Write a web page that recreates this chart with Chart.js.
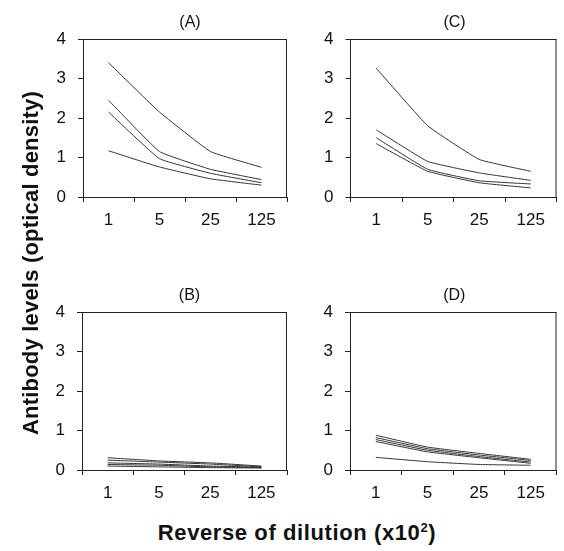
<!DOCTYPE html>
<html>
<head>
<meta charset="utf-8">
<script src="https://cdn.jsdelivr.net/npm/chart.js@4.4.1/dist/chart.umd.min.js"></script>
<style>
  html, body { margin: 0; padding: 0; background: #fff; }
  body { width: 564px; height: 551px; position: relative; overflow: hidden; font-family: "Liberation Sans", Arial, sans-serif; color: #111; }
  .panel { position: absolute; }
  .ytitle {
    position: absolute; left: 31px; top: 263px; white-space: nowrap;
    transform: translate(-50%, -50%) rotate(-90deg);
    font-weight: bold; font-size: 22px; letter-spacing: 0.2px;
  }
  .xtitle {
    position: absolute; left: 297px; top: 533px; white-space: nowrap;
    transform: translate(-50%, -50%);
    font-weight: bold; font-size: 22px; letter-spacing: 0.6px;
  }
  .xtitle sup { font-size: 13px; }
</style>
</head>
<body>
<canvas id="cA" class="panel" width="292" height="240" style="left:0;top:0"></canvas>
<canvas id="cC" class="panel" width="282" height="240" style="left:282px;top:0"></canvas>
<canvas id="cB" class="panel" width="292" height="240" style="left:0;top:273px"></canvas>
<canvas id="cD" class="panel" width="282" height="240" style="left:282px;top:273px"></canvas>
<div class="ytitle">Antibody levels (optical density)</div>
<div class="xtitle">Reverse of dilution (x10<sup>2</sup>)</div>
<script>
// ---------- dados ----------
const dilutions = ["1", "5", "25", "125"];

const panelA = [
  [3.4, 2.15, 1.15, 0.75],
  [2.45, 1.15, 0.7, 0.44],
  [2.15, 0.97, 0.6, 0.36],
  [1.17, 0.76, 0.46, 0.3],
];

const panelC = [
  [3.26, 1.8, 0.95, 0.65],
  [1.7, 0.9, 0.61, 0.42],
  [1.5, 0.7, 0.41, 0.33],
  [1.35, 0.65, 0.36, 0.23],
];

const panelB = [
  [0.31, 0.23, 0.18, 0.1],
  [0.25, 0.2, 0.15, 0.08],
  [0.18, 0.15, 0.1, 0.07],
  [0.14, 0.12, 0.08, 0.06],
  [0.1, 0.08, 0.06, 0.05],
];

const panelD = [
  [0.88, 0.58, 0.42, 0.27],
  [0.82, 0.54, 0.38, 0.24],
  [0.77, 0.5, 0.34, 0.2],
  [0.72, 0.46, 0.31, 0.17],
  [0.32, 0.21, 0.14, 0.12],
];

const yTicks = [0, 1, 2, 3, 4];

// ---------- moldura + rótulo do painel ----------
const framePlugin = {
  id: "frame",
  afterDraw(chart, args, opts) {
    const { ctx, chartArea: a } = chart;
    ctx.save();
    ctx.strokeStyle = "#222";
    ctx.lineWidth = 1;
    ctx.beginPath();
    ctx.moveTo(a.left, a.top + 0.5);
    ctx.lineTo(a.right, a.top + 0.5);
    ctx.moveTo(a.right - 0.5, a.top);
    ctx.lineTo(a.right - 0.5, a.bottom);
    ctx.stroke();
    ctx.font = '16px "Liberation Sans", Arial, sans-serif';
    ctx.fillStyle = "#111";
    ctx.textAlign = "center";
    ctx.textBaseline = "middle";
    ctx.fillText(opts.label, (a.left + a.right) / 2 + (opts.dx || 0), a.top - 16);
    ctx.restore();
  },
};

const tickFont = { family: '"Liberation Sans", Arial, sans-serif', size: 17 };

function painel(id, label, series, yw, padRight, dx) {
  return new Chart(document.getElementById(id), {
    type: "line",
    data: {
      labels: dilutions,
      datasets: series.map((s) => ({
        data: s,
        borderColor: "#333",
        borderWidth: 1,
        pointRadius: 0,
        tension: 0.1,
        fill: false,
      })),
    },
    options: {
      responsive: false,
      animation: false,
      layout: { padding: { top: 39, right: padRight, left: 0, bottom: 0 } },
      plugins: {
        legend: { display: false },
        tooltip: { enabled: false },
        frame: { label: label, dx: dx },
      },
      scales: {
        x: {
          type: "category",
          offset: true,
          afterFit(scale) { scale.height = 43; },
          grid: { offset: true, drawOnChartArea: false, drawTicks: true, tickLength: 5, color: "#222" },
          border: { display: true, color: "#222", width: 1 },
          ticks: { color: "#111", font: tickFont, padding: 8, maxRotation: 0 },
        },
        y: {
          min: 0,
          max: 4,
          afterFit(scale) { scale.width = yw; },
          afterBuildTicks(scale) { scale.ticks = yTicks.map((v) => ({ value: v })); },
          grid: { drawOnChartArea: false, drawTicks: true, tickLength: 5, color: "#222" },
          border: { display: true, color: "#222", width: 1 },
          ticks: { color: "#111", font: tickFont, padding: 12 },
        },
      },
    },
    plugins: [framePlugin],
  });
}

painel("cA", "(A)", panelA, 83, 5, 5);
painel("cC", "(C)", panelC, 68.5, 7.5, 1);
painel("cB", "(B)", panelB, 82, 5, 5);
painel("cD", "(D)", panelD, 68, 7.5, 1);
</script>
</body>
</html>
